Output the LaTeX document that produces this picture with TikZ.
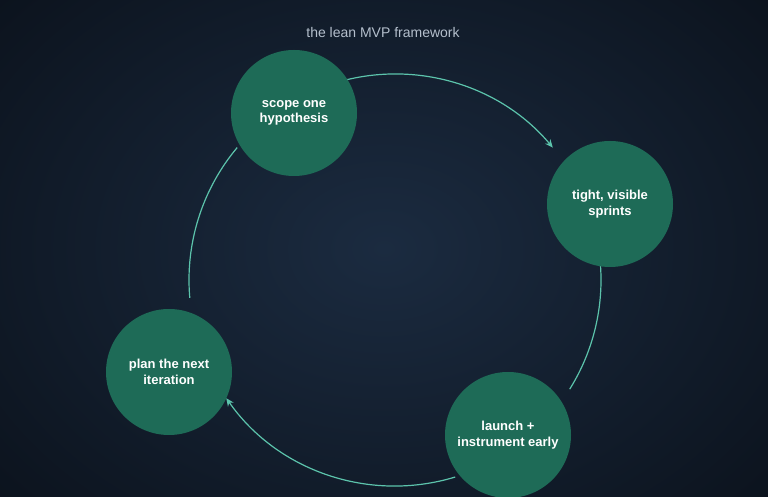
\documentclass[tikz,border=0pt]{standalone}
\usepackage{fontspec}
\setmainfont{Liberation Sans}
\usetikzlibrary{arrows.meta}
\definecolor{bgin}{HTML}{1B2B40}
\definecolor{bgout}{HTML}{0B121C}
\definecolor{nodefill}{HTML}{1E6B57}
\definecolor{arccol}{HTML}{5CC4AC}
\definecolor{titlecol}{HTML}{B4BFCC}
\begin{document}
\begin{tikzpicture}[x=1pt,y=1pt,
  stage/.style={circle,fill=nodefill,minimum size=126pt,inner sep=0pt,align=center,
    text=white,font=\bfseries\fontsize{13}{15.5}\selectfont},
  ring/.style={draw=arccol,line width=1.2pt},
  tip/.style={-{Stealth[length=8pt,width=7pt]}}]
\useasboundingbox (0,0) rectangle (768,497);
\shade[inner color=bgin,outer color=bgout] (-150,-150) rectangle (918,647);
\node[text=titlecol,font=\fontsize{14}{16}\selectfont] (title) at (383,464) {the lean MVP framework};
\coordinate (C) at (395,217);
\draw[ring,tip] ([shift={(104:206)}]C) arc[start angle=104,end angle=40,radius=206];
\draw[ring] ([shift={(4:206)}]C) arc[start angle=4,end angle=-32,radius=206];
\draw[ring,tip] ([shift={(-73:206)}]C) arc[start angle=-73,end angle=-145,radius=206];
\draw[ring] ([shift={(185:206)}]C) arc[start angle=185,end angle=140,radius=206];
\node[stage] (scope) at (294,384) {scope one\\hypothesis};
\node[stage] (tight) at (610,293) {tight, visible\\sprints};
\node[stage] (launch) at (508,62) {launch +\\instrument early};
\node[stage] (plan) at (169,125) {plan the next\\iteration};
\end{tikzpicture}
\end{document}
